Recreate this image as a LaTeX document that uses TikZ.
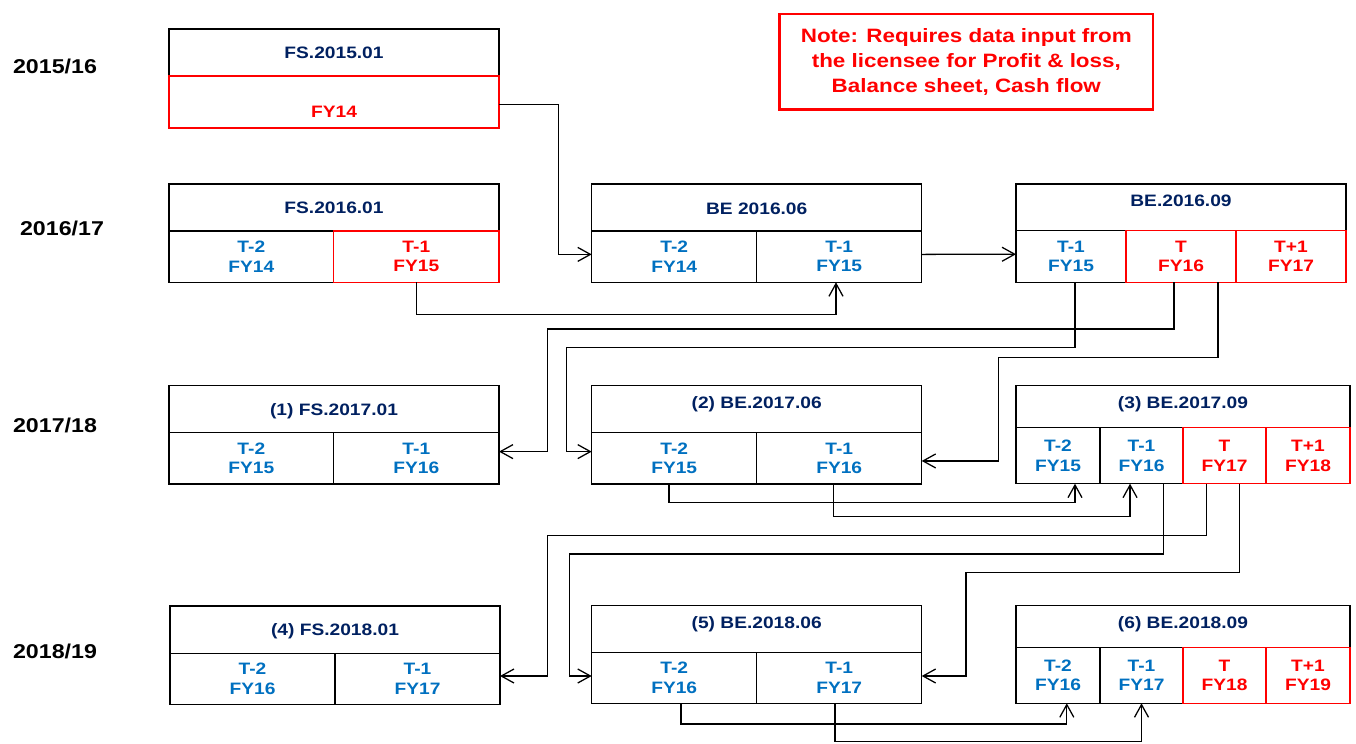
\documentclass[tikz,border=0pt]{standalone}
\usepackage{fontspec}
\setmainfont{Liberation Sans}[FakeStretch=1.16]
\usetikzlibrary{arrows.meta,calc}
\definecolor{navy}{RGB}{0,32,96}
\definecolor{cblue}{RGB}{0,112,192}
\definecolor{cred}{RGB}{255,0,0}
\newcommand{\mkcell}[7]{\node[#6, minimum width={(#4-#2)*0.75pt}, minimum height={(#5-#3)*0.75pt}, anchor=north west] (#1) at (#2,#3) {#7};}
\tikzset{
  cellblk/.style={draw=black, line width=1.1pt, inner sep=0pt, outer sep=0pt, align=center,
    font=\bfseries\fontsize{12.4}{14.6}\selectfont, text=cblue},
  cellred/.style={cellblk, draw=cred, text=cred},
  ttl/.style={font=\bfseries\fontsize{12.4}{14.6}\selectfont, text=navy, anchor=base, inner sep=0pt},
  yearlbl/.style={font=\bfseries\fontsize{15}{18}\selectfont, text=black, anchor=base, inner sep=0pt},
  conn/.style={line width=0.95pt, line join=miter, -{Straight Barb[length=9.5pt,width=10.5pt]}},
}
\begin{document}
\begin{tikzpicture}[x=0.75pt,y=-0.75pt]
\useasboundingbox (0,0) rectangle (1356,743);

% year labels
\node[yearlbl] (y1) at (55,73.9) {2015/16};
\node[yearlbl] (y2) at (62,235.2) {2016/17};
\node[yearlbl] (y3) at (55,432.2) {2017/18};
\node[yearlbl] (y4) at (55,658.9) {2018/19};

% note
\node[draw=cred, line width=2pt, minimum width={(1151.7-778.3)*0.75pt}, minimum height={(108.3-12.7)*0.75pt},
  anchor=north west, inner sep=0pt, align=center, text=cred,
  font=\bfseries\fontsize{14.5}{18.75}\selectfont] (note) at (778.3,12.7)
  {Note: Requires data input from\\the licensee for Profit \& loss,\\Balance sheet, Cash flow};

% FS.2015.01
\mkcell{a1t}{169}{29}{499}{76}{cellblk}{}
\mkcell{a1c}{169}{76}{499}{128}{cellred}{}
\node[ttl] (a1tt) at (334,58.8) {FS.2015.01};
\node[ttl, text=cred] (a1ct) at (334,117.8) {FY14};

% FS.2016.01
\mkcell{b1t}{169}{184}{499}{231}{cellblk}{}
\mkcell{b1a}{169}{231}{333.7}{282.3}{cellblk}{T-2\\FY14}
\mkcell{b1b}{333.7}{231}{499}{282.3}{cellred}{T-1\\FY15}
\node[ttl] (b1tt) at (334,213.8) {FS.2016.01};

% BE 2016.06
\mkcell{b2t}{591.7}{184}{921.7}{231}{cellblk}{}
\mkcell{b2a}{591.7}{231}{756.7}{282.3}{cellblk}{T-2\\FY14}
\mkcell{b2b}{756.7}{231}{921.7}{282.3}{cellblk}{T-1\\FY15}
\node[ttl] (b2tt) at (756.7,214.8) {BE 2016.06};

% BE.2016.09
\mkcell{b3t}{1016}{184}{1346}{230.7}{cellblk}{}
\mkcell{b3a}{1016}{230.7}{1126}{282.3}{cellblk}{T-1\\FY15}
\mkcell{b3b}{1126}{230.7}{1236}{282.3}{cellred}{T\\FY16}
\mkcell{b3c}{1236}{230.7}{1346}{282.3}{cellred}{T+1\\FY17}
\node[ttl] (b3tt) at (1181,206.5) {BE.2016.09};

% (1) FS.2017.01
\mkcell{c1t}{169}{385.7}{499}{432.3}{cellblk}{}
\mkcell{c1a}{169}{432.3}{333.7}{484}{cellblk}{T-2\\FY15}
\mkcell{c1b}{333.7}{432.3}{499}{484}{cellblk}{T-1\\FY16}
\node[ttl] (c1tt) at (334,415.8) {(1) FS.2017.01};

% (2) BE.2017.06
\mkcell{c2t}{591.7}{385.7}{921.7}{432.3}{cellblk}{}
\mkcell{c2a}{591.7}{432.3}{756.7}{484}{cellblk}{T-2\\FY15}
\mkcell{c2b}{756.7}{432.3}{921.7}{484}{cellblk}{T-1\\FY16}
\node[ttl] (c2tt) at (756.7,408.1) {(2) BE.2017.06};

% (3) BE.2017.09
\mkcell{c3t}{1016}{385.7}{1350}{427.7}{cellblk}{}
\mkcell{c3a}{1016}{427.7}{1100}{483.7}{cellblk}{T-2\\FY15}
\mkcell{c3b}{1100}{427.7}{1183}{483.7}{cellblk}{T-1\\FY16}
\mkcell{c3c}{1183}{427.7}{1266}{483.7}{cellred}{T\\FY17}
\mkcell{c3d}{1266}{427.7}{1350}{483.7}{cellred}{T+1\\FY18}
\node[ttl] (c3tt) at (1183,408.1) {(3) BE.2017.09};

% (4) FS.2018.01
\mkcell{d1t}{170}{606}{500}{653.3}{cellblk}{}
\mkcell{d1a}{170}{653.3}{335}{704.3}{cellblk}{T-2\\FY16}
\mkcell{d1b}{335}{653.3}{500}{704.3}{cellblk}{T-1\\FY17}
\node[ttl] (d1tt) at (335,635.8) {(4) FS.2018.01};

% (5) BE.2018.06
\mkcell{d2t}{591.7}{605.7}{921.7}{652.3}{cellblk}{}
\mkcell{d2a}{591.7}{652.3}{756.7}{703.3}{cellblk}{T-2\\FY16}
\mkcell{d2b}{756.7}{652.3}{921.7}{703.3}{cellblk}{T-1\\FY17}
\node[ttl] (d2tt) at (756.7,628.1) {(5) BE.2018.06};

% (6) BE.2018.09
\mkcell{d3t}{1016}{605.7}{1350}{647.3}{cellblk}{}
\mkcell{d3a}{1016}{647.3}{1100}{703.3}{cellblk}{T-2\\FY16}
\mkcell{d3b}{1100}{647.3}{1183}{703.3}{cellblk}{T-1\\FY17}
\mkcell{d3c}{1183}{647.3}{1266}{703.3}{cellred}{T\\FY18}
\mkcell{d3d}{1266}{647.3}{1350}{703.3}{cellred}{T+1\\FY19}
\node[ttl] (d3tt) at (1183,628.1) {(6) BE.2018.09};

% waypoints
\coordinate (k1) at (558.3,104.3);
\coordinate (k4) at (547.7,329);
\coordinate (k5) at (566.7,347.7);
\coordinate (k6) at (998.3,357.7);
\coordinate (k9) at (547.7,535.3);
\coordinate (k10) at (569.3,554);
\coordinate (k11) at (966,572.7);

% connectors
\draw[conn] ([yshift=-1.7pt]a1c.east) -| (k1) |- ([yshift=1.7pt]b2a.west);
\draw[conn] (b1b.south) -- ++(0,32) -| ([xshift=-2.4pt]b2b.south);
\draw[conn] ([yshift=1.7pt]b2b.east) -- ([yshift=1.7pt]b3a.west);
\draw[conn] ([xshift=-5.25pt]b3b.south) |- (k4) |- ([yshift=4.9pt]c1b.east);
\draw[conn] ([xshift=3pt]b3a.south) |- (k5) |- ([yshift=4.9pt]c2a.west);
\draw[conn] ([xshift=27.75pt]b3b.south) |- (k6) |- ([yshift=-2.1pt]c2b.east);
\draw[conn] ([xshift=-3.9pt]c2a.south) -- ++(0,18.7) -| ([xshift=12.75pt]c3a.south);
\draw[conn] ([xshift=-4.4pt]c2b.south) -- ++(0,32.7) -| ([xshift=-8.6pt]c3b.south);
\draw[conn] ([xshift=-13.35pt]c3c.south) |- (k9) |- ([yshift=2.1pt]d1b.east);
\draw[conn] ([xshift=16.35pt]c3b.south) |- (k10) |- ([yshift=1.35pt]d2a.west);
\draw[conn] ([xshift=11.1pt]c3c.south) |- (k11) |- ([yshift=1.35pt]d2b.east);
\draw[conn] ([xshift=5.1pt]d2a.south) -- ++(0,20.7) -| ([xshift=6.6pt]d3a.south);
\draw[conn] ([xshift=-3.2pt]d2b.south) -- ++(0,38.4) -| (d3b.south);
\end{tikzpicture}
\end{document}
